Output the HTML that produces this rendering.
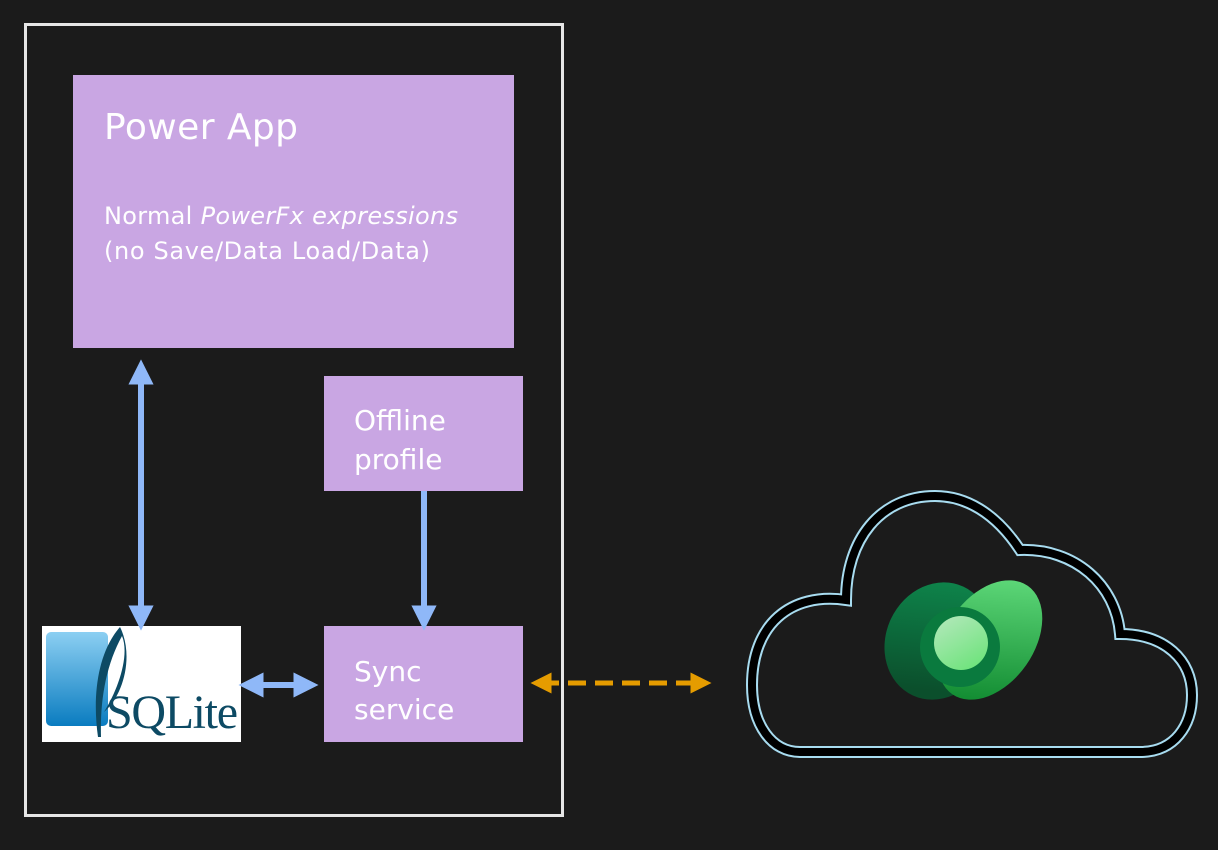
<!DOCTYPE html>
<html><head><style>
html,body{margin:0;padding:0;background:#1b1b1b;}
svg{display:block;}
text{font-family:"DejaVu Sans","Liberation Sans",sans-serif;fill:#fff;}
</style></head><body>
<svg width="1218" height="850" viewBox="0 0 1218 850">
<defs>
<marker id="ab" viewBox="0 0 10 10" refX="5" refY="5" markerWidth="4.2" markerHeight="4.2" orient="auto-start-reverse"><path d="M0,0 L10,5 L0,10 z" fill="#8fb8f8"/></marker>
<marker id="ao" viewBox="0 0 10 10" refX="5" refY="5" markerWidth="4.2" markerHeight="4.2" orient="auto-start-reverse"><path d="M0,0 L10,5 L0,10 z" fill="#e59c00"/></marker>
<linearGradient id="g1" x1="0" y1="0" x2="0.3" y2="1"><stop offset="0" stop-color="#0e8a4e"/><stop offset="1" stop-color="#0b4f2c"/></linearGradient>
<linearGradient id="g2" x1="0.3" y1="0" x2="0.7" y2="1"><stop offset="0" stop-color="#5fd97a"/><stop offset="1" stop-color="#108a30"/></linearGradient>
<linearGradient id="g3" x1="0.2" y1="0" x2="0.8" y2="1"><stop offset="0" stop-color="#b0e8b8"/><stop offset="1" stop-color="#6ce37a"/></linearGradient>
<linearGradient id="sq" x1="0" y1="0" x2="0" y2="1"><stop offset="0" stop-color="#8ccff2"/><stop offset="1" stop-color="#0a7cc0"/></linearGradient>
</defs>
<rect x="25.5" y="24.5" width="537" height="791" fill="none" stroke="#e6e6e6" stroke-width="3"/>
<rect x="73" y="75" width="441" height="273" fill="#c9a6e3"/>
<text x="104" y="139" font-size="36" textLength="194">Power App</text>
<text x="104" y="224" font-size="24" textLength="354">Normal <tspan font-style="italic">PowerFx expressions</tspan></text>
<text x="104" y="259" font-size="24" textLength="326">(no Save/Data Load/Data)</text>
<rect x="324" y="376" width="199" height="115" fill="#c9a6e3"/>
<text x="354" y="430" font-size="28">Offline</text>
<text x="354" y="469" font-size="28">profile</text>
<rect x="324" y="626" width="199" height="116" fill="#c9a6e3"/>
<text x="354" y="681" font-size="28">Sync</text>
<text x="354" y="719" font-size="28">service</text>
<rect x="42" y="626" width="199" height="116" fill="#fff"/>
<rect x="46" y="632" width="62" height="94" rx="5" fill="url(#sq)"/>
<path d="M120,627 C98,652 92,695 98,737 L101,737 C100,700 106,665 122,636 C130,655 118,690 104,712 C124,695 134,655 120,627z" fill="#0d4a64"/>
<text x="106" y="728" font-size="48" textLength="132" style="fill:#0d4a64;font-family:'Liberation Serif',serif">SQLite</text>
<line x1="141" y1="372" x2="141" y2="618" stroke="#8fb8f8" stroke-width="6" marker-start="url(#ab)" marker-end="url(#ab)"/>
<line x1="424" y1="491" x2="424" y2="618" stroke="#8fb8f8" stroke-width="6" marker-end="url(#ab)"/>
<line x1="251" y1="685" x2="306" y2="685" stroke="#8fb8f8" stroke-width="6" marker-start="url(#ab)" marker-end="url(#ab)"/>
<line x1="541" y1="683" x2="701" y2="683" stroke="#e59c00" stroke-width="5" stroke-dasharray="18,9" marker-start="url(#ao)" marker-end="url(#ao)"/>
<path d="M800,752 L1140,752 C1175,752 1192,725 1192,695 C1192,660 1165,634 1120,634 C1116,585 1075,548 1020,550 C995,512 965,496 935,496 C880,496 846,540 846,600 C790,592 752,625 752,685 C752,725 772,752 800,752 Z" fill="none" stroke="#a8dcf0" stroke-width="12"/>
<path d="M800,752 L1140,752 C1175,752 1192,725 1192,695 C1192,660 1165,634 1120,634 C1116,585 1075,548 1020,550 C995,512 965,496 935,496 C880,496 846,540 846,600 C790,592 752,625 752,685 C752,725 772,752 800,752 Z" fill="none" stroke="#000" stroke-width="8"/>
<ellipse cx="938" cy="641" rx="52" ry="60" fill="url(#g1)" transform="rotate(25 938 641)"/>
<ellipse cx="990" cy="640" rx="44" ry="66" fill="url(#g2)" transform="rotate(35 990 640)"/>
<circle cx="960" cy="647" r="40" fill="#0a7a3e"/>
<circle cx="961" cy="643" r="27" fill="url(#g3)"/>
</svg>
</body></html>
